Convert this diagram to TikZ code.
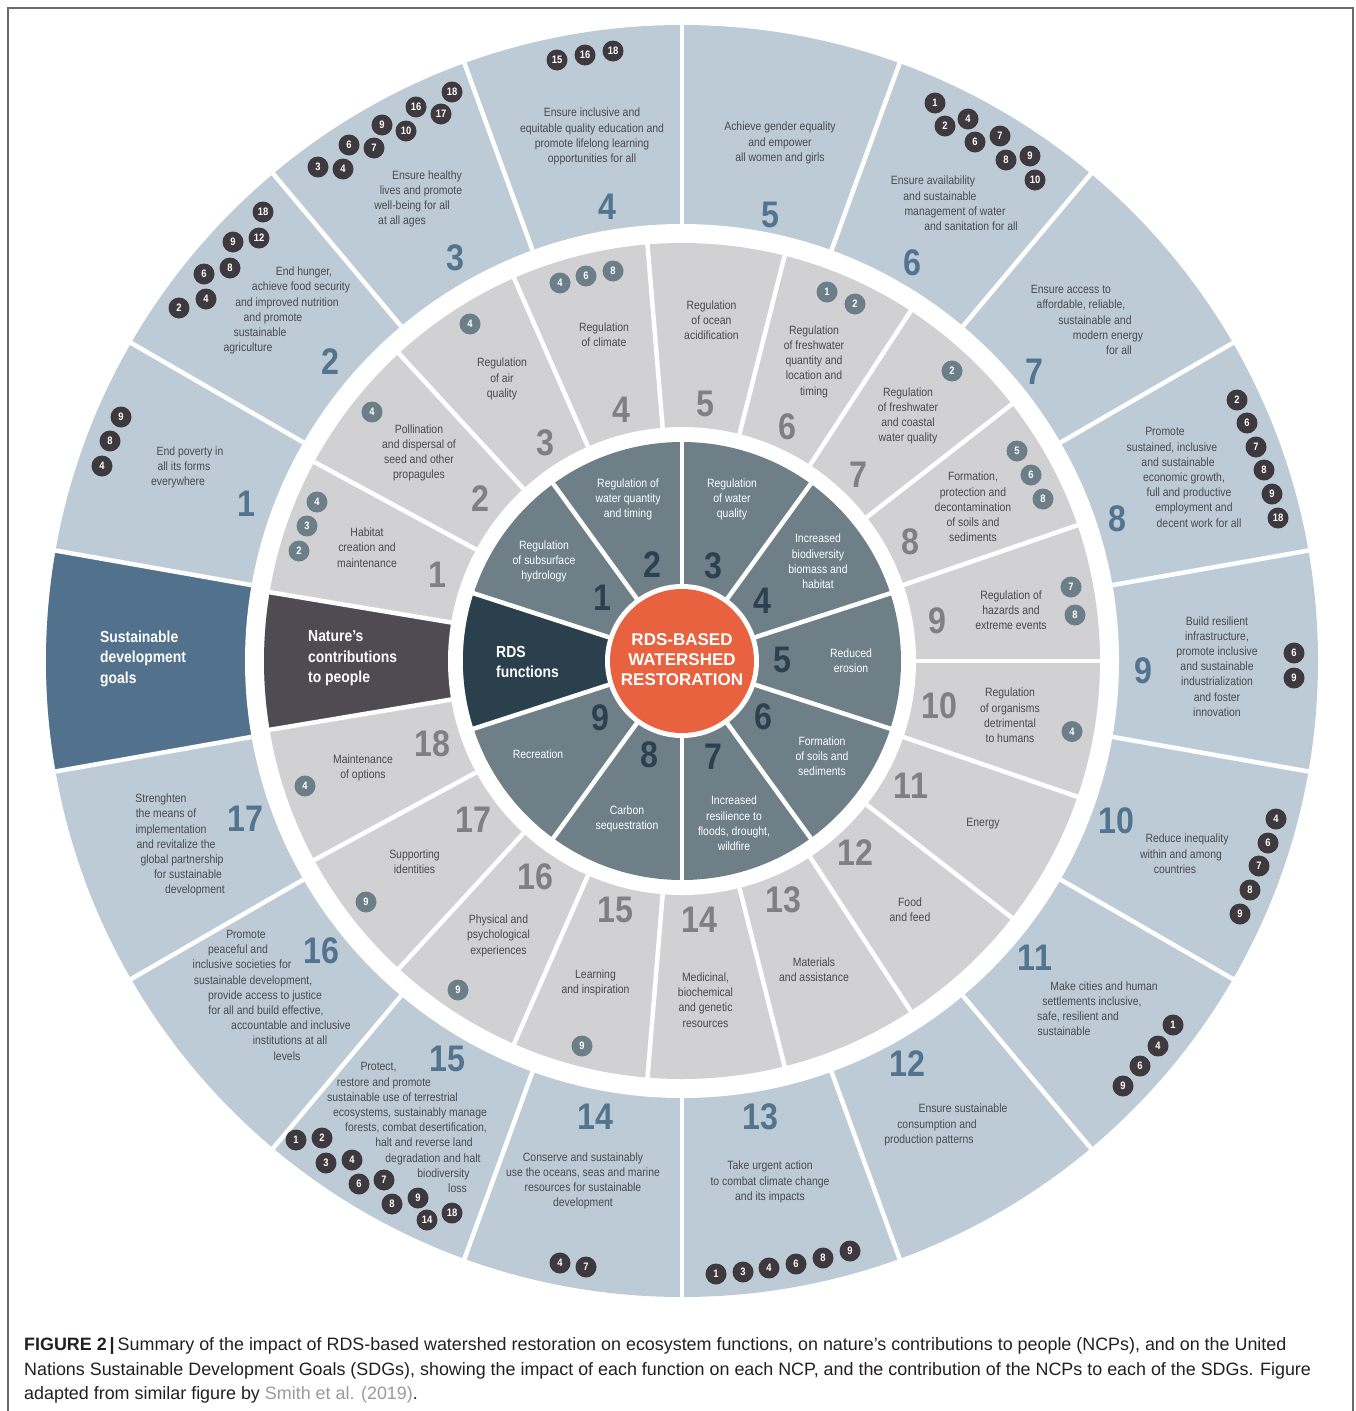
\documentclass[tikz,border=0pt]{standalone}
\usepackage{fontspec}
\setmainfont{Liberation Sans}
\newfontfamily\condfont{Liberation Sans}[FakeStretch=0.87]
\usepackage{tikz}

\definecolor{sdgfill}{HTML}{BDCBD7}
\definecolor{sdgtitle}{HTML}{52718C}
\definecolor{sdgnumcol}{HTML}{52748F}
\definecolor{sdgdotcol}{HTML}{3E393E}
\definecolor{ncpfill}{HTML}{D1D1D4}
\definecolor{ncptitle}{HTML}{504A53}
\definecolor{ncpnumcol}{HTML}{808082}
\definecolor{ncpdotcol}{HTML}{6C7E87}
\definecolor{fnfill}{HTML}{6E7F88}
\definecolor{fntitle}{HTML}{2A404D}
\definecolor{fnnumcol}{HTML}{2B4150}
\definecolor{rdsorange}{HTML}{E86240}
\definecolor{labelgray}{HTML}{4A4A4C}
\definecolor{framegray}{HTML}{6A6A6A}
\definecolor{captext}{HTML}{231F20}
\definecolor{linkgray}{HTML}{9A9A9A}

\tikzset{
        sep/.style={white, line width=4.5pt},
        lbl/.style={font=\condfont\fontsize{12}{15.2}\selectfont, text=labelgray,
                    align=center, inner sep=0pt},
        fnlbl/.style={lbl, text=white},
        bignum/.style={font=\condfont\bfseries\fontsize{37}{37}\selectfont, inner sep=0pt},
        sdgnum/.style={bignum, text=sdgnumcol},
        ncpnum/.style={bignum, text=ncpnumcol},
        fnnum/.style={bignum, text=fnnumcol},
        dot/.style={circle, minimum size=21pt, inner sep=0pt, text=white,
                    font=\condfont\bfseries\fontsize{10.8}{10.8}\selectfont},
        sdgdot/.style={dot, fill=sdgdotcol},
        ncpdot/.style={dot, fill=ncpdotcol},
        ringtitle/.style={font=\condfont\bfseries\fontsize{16}{20.5}\selectfont, text=white,
                          align=left, inner sep=0pt, anchor=west},
        coretext/.style={font=\bfseries\fontsize{17}{20}\selectfont, text=white,
                         align=center, inner sep=0pt},
        caption/.style={font=\fontsize{17.9}{24.5}\selectfont, text=captext,
                        align=left, inner sep=0pt, anchor=north west},
 }

\begin{document}
\begin{tikzpicture}[x=1pt, y=-1pt]
    \useasboundingbox (0,0) rectangle (1356,1411);
    \draw[framegray, line width=2pt] (8,1411) -- (8,8) -- (1353,8) -- (1353,1411);

    % the three rings
    \begin{scope}[shift={(682,661)}, yscale=-1]
        \fill[sdgfill] (0,0) circle[radius=636];
        \fill[sdgtitle] (0,0) -- (170:636) arc[start angle=170, end angle=190, radius=636] -- cycle;
        \foreach \k in {0,...,17}
            \draw[sep] ({10+20*\k}:437) -- ({10+20*\k}:640);
        \fill[white] (0,0) circle[radius=437];
        \fill[ncpfill] (0,0) circle[radius=418];
        \fill[ncptitle] (0,0) -- ({9*360/19}:418)
            arc[start angle={9*360/19}, end angle={10*360/19}, radius=418] -- cycle;
        \foreach \k in {0,...,18}
            \draw[sep] ({\k*360/19}:234) -- ({\k*360/19}:421);
        \fill[white] (0,0) circle[radius=234];
        \fill[fnfill] (0,0) circle[radius=219];
        \fill[fntitle] (0,0) -- (162:219) arc[start angle=162, end angle=198, radius=219] -- cycle;
        \foreach \k in {0,...,9}
            \draw[sep] ({18+36*\k}:70) -- ({18+36*\k}:222);
        \fill[white] (0,0) circle[radius=77];
        \fill[rdsorange] (0,0) circle[radius=72];
    \end{scope}

    \node[coretext] (core) at (682,660) {RDS-BASED\\WATERSHED\\RESTORATION};

    % RDS functions
    \node[ringtitle] (fntitle) at (496,662) {RDS\\functions};
    \node[fnlbl] (fn1) at (544,561.5) {Regulation\\of subsurface\\hydrology};
    \node[fnlbl] (fn2) at (628,499.5) {Regulation of\\water quantity\\and timing};
    \node[fnlbl] (fn3) at (732,499.5) {Regulation\\of water\\quality};
    \node[fnlbl] (fn4) at (818,561.5) {Increased\\biodiversity\\biomass and\\habitat};
    \node[fnlbl] (fn5) at (851,660.5) {Reduced\\erosion};
    \node[fnlbl] (fn6) at (822,756) {Formation\\of soils and\\sediments};
    \node[fnlbl] (fn7) at (734,823.5) {Increased\\resilience to\\floods, drought,\\wildfire};
    \node[fnlbl] (fn8) at (627,819) {Carbon\\sequestration};
    \node[fnlbl] (fn9) at (538,754) {Recreation};
    \foreach \k/\x/\y in {1/602/598, 2/652/565, 3/713/566, 4/762/601, 5/782/660,
                          6/763/717, 7/713/757, 8/649/755, 9/600/718}
        \node[fnnum] (fn\k num) at (\x,\y) {\k};

    % nature's contributions to people
    \node[ringtitle] (ncptitle) at (308,658.5) {Nature’s\\contributions\\to people};
    \node[lbl] (ncp1) at (367,547.7) {Habitat\\creation and\\maintenance};
    \node[lbl] (ncp2) at (419,453) {Pollination\\and dispersal of\\seed and other\\propagules};
    \node[lbl] (ncp3) at (502,379) {Regulation\\of air\\quality};
    \node[lbl] (ncp4) at (604,335) {Regulation\\of climate};
    \node[lbl] (ncp5) at (711.5,320) {Regulation\\of ocean\\acidification};
    \node[lbl] (ncp6) at (814,361.5) {Regulation\\of freshwater\\quantity and\\location and\\timing};
    \node[lbl] (ncp7) at (908,416) {Regulation\\of freshwater\\and coastal\\water quality};
    \node[lbl] (ncp8) at (973,507) {Formation,\\protection and\\decontamination\\of soils and\\sediments};
    \node[lbl] (ncp9) at (1011,610.5) {Regulation of\\hazards and\\extreme events};
    \node[lbl] (ncp10) at (1010,715.5) {Regulation\\of organisms\\detrimental\\to humans};
    \node[lbl] (ncp11) at (983,823.5) {Energy};
    \node[lbl] (ncp12) at (910,910) {Food\\and feed};
    \node[lbl] (ncp13) at (814,969.5) {Materials\\and assistance};
    \node[lbl] (ncp14) at (705.5,1000) {Medicinal,\\biochemical\\and genetic\\resources};
    \node[lbl] (ncp15) at (595.5,983) {Learning\\and inspiration};
    \node[lbl] (ncp16) at (498.5,935.7) {Physical and\\psychological\\experiences};
    \node[lbl] (ncp17) at (414.5,861.5) {Supporting\\identities};
    \node[lbl] (ncp18) at (363,768) {Maintenance\\of options};
    \foreach \k/\x/\y in {1/437/575, 2/480/499, 3/545/443, 4/621/410, 5/705.5/404,
                          6/787/427, 7/858/475, 8/910/542, 9/937/621, 10/939/705.5,
                          11/911/786, 12/855/853, 13/783/900, 14/699/920, 15/615/910,
                          16/535/877, 17/473/820, 18/432.5/743.5}
        \node[ncpnum] (ncp\k num) at (\x,\y) {\k};
    \foreach \n/\k/\x/\y in {1/4/317/502, 1/3/307/526, 1/2/299/551, 2/4/372/412,
                             3/4/470/324, 4/4/560/283, 4/6/586/276, 4/8/613/271,
                             6/1/827/292, 6/2/855/304, 7/2/952/371,
                             8/5/1017/451, 8/6/1031/475, 8/8/1043/499,
                             9/7/1071/587, 9/8/1075/615, 10/4/1072/731.5,
                             15/9/582/1046, 16/9/458/990, 17/9/366/902, 18/4/305/786}
        \node[ncpdot] (ncp\n-\k) at (\x,\y) {\k};

    % sustainable development goals
    \node[ringtitle] (sdgtitle) at (100,658.5) {Sustainable\\development\\goals};
    \node[lbl] (sdg1) at (184,467.5) {\hspace*{12pt}End poverty in\\all its forms\\\hspace*{-12pt}everywhere};
    \node[lbl] (sdg2) at (276,310.5) {\hspace*{56pt}End hunger,\\\hspace*{50pt}achieve food security\\
        \hspace*{22pt}and improved nutrition\\\hspace*{-6pt}and promote\\\hspace*{-32pt}sustainable\\
        \hspace*{-56pt}agriculture};
    \node[lbl] (sdg3) at (415,199) {\hspace*{24pt}Ensure healthy\\\hspace*{12pt}lives and promote\\
        \hspace*{-6pt}well-being for all\\\hspace*{-26pt}at all ages};
    \node[lbl] (sdg4) at (592,136.5) {Ensure inclusive and\\equitable quality education and\\
        promote lifelong learning\\opportunities for all};
    \node[lbl] (sdg5) at (780,143) {Achieve gender equality\\and empower\\all women and girls};
    \node[lbl] (sdg6) at (952,203.5) {\hspace*{-38pt}Ensure availability\\\hspace*{-24pt}and sustainable\\
        \hspace*{6pt}management of water\\\hspace*{38pt}and sanitation for all};
    \node[lbl] (sdg7) at (1095,320) {\hspace*{-48pt}Ensure access to\\\hspace*{-28pt}affordable, reliable,\\
        sustainable and\\\hspace*{26pt}modern energy\\\hspace*{48pt}for all};
    \node[lbl] (sdg8) at (1182,477.5) {\hspace*{-34pt}Promote\\\hspace*{-20pt}sustained, inclusive\\
        \hspace*{-8pt}and sustainable\\\hspace*{4pt}economic growth,\\\hspace*{14pt}full and productive\\
        \hspace*{24pt}employment and\\\hspace*{34pt}decent work for all};
    \node[lbl] (sdg9) at (1217,666.5) {Build resilient\\infrastructure,\\promote inclusive\\
        and sustainable\\industrialization\\and foster\\innovation};
    \node[lbl] (sdg10) at (1181,853.8) {\hspace*{12pt}Reduce inequality\\within and among\\
        \hspace*{-12pt}countries};
    \node[lbl] (sdg11) at (1084,1008.8) {\hspace*{40pt}Make cities and human\\
        \hspace*{16pt}settlements inclusive,\\\hspace*{-12pt}safe, resilient and\\\hspace*{-40pt}sustainable};
    \node[lbl] (sdg12) at (946,1125) {\hspace*{34pt}Ensure sustainable\\\hspace*{-18pt}consumption and\\
        \hspace*{-34pt}production patterns};
    \node[lbl] (sdg13) at (770,1182) {Take urgent action\\to combat climate change\\and its impacts};
    \node[lbl] (sdg14) at (583,1181) {Conserve and sustainably\\use the oceans, seas and marine\\
        resources for sustainable\\development};
    \node[lbl] (sdg15) at (418,1127.7) {\hspace*{-79pt}Protect,\\\hspace*{-68pt}restore and promote\\
        \hspace*{-51pt}sustainable use of terrestrial\\\hspace*{-16pt}ecosystems, sustainably manage\\
        \hspace*{-4pt}forests, combat desertification,\\\hspace*{12pt}halt and reverse land\\
        \hspace*{30pt}degradation and halt\\\hspace*{51pt}biodiversity\\\hspace*{79pt}loss};
    \node[lbl] (sdg16) at (264,995.3) {\hspace*{-36pt}Promote\\\hspace*{-52pt}peaceful and\\
        \hspace*{-44pt}inclusive societies for\\\hspace*{-22pt}sustainable development,\\
        \hspace*{2pt}provide access to justice\\\hspace*{4pt}for all and build effective,\\
        \hspace*{54pt}accountable and inclusive\\\hspace*{52pt}institutions at all\\\hspace*{46pt}levels};
    \node[lbl] (sdg17) at (178,845.2) {\hspace*{-34pt}Strenghten\\\hspace*{-24pt}the means of\\
        \hspace*{-14pt}implementation\\\hspace*{-4pt}and revitalize the\\\hspace*{8pt}global partnership\\
        \hspace*{20pt}for sustainable\\\hspace*{34pt}development};
    \foreach \k/\x/\y in {1/246.5/504, 2/330.5/362, 3/455/258, 4/607/207, 5/770/215,
                          6/912/263, 7/1034/372, 8/1117/519, 9/1143/671, 10/1116/820.5,
                          11/1035/957.5, 12/907/1064, 13/760/1117, 14/595/1117,
                          15/447/1059, 16/321.7/951, 17/245.7/819}
        \node[sdgnum] (sdg\k num) at (\x,\y) {\k};
    \foreach \n/\k/\x/\y in {1/9/121/417, 1/8/110/441, 1/4/102/466,
                             2/18/263/212, 2/12/259/238, 2/9/233/242, 2/8/230/268,
                             2/6/204/274, 2/4/206/299, 2/2/179/308,
                             3/18/452/92, 3/16/416/107, 3/17/441/114, 3/9/382/125, 3/10/406/131,
                             3/6/349/145, 3/7/374/148, 3/3/318/167, 3/4/343/169,
                             4/15/557/60, 4/16/585/55, 4/18/613/51,
                             6/1/935/103, 6/2/945/126, 6/4/968/119, 6/6/975/142,
                             6/7/1000/136, 6/8/1006/160, 6/9/1030/156, 6/10/1035/180,
                             8/2/1237/400, 8/6/1247/423, 8/7/1256/447, 8/8/1264/470,
                             8/9/1272/494, 8/18/1278/518,
                             9/6/1294/653, 9/9/1294/678,
                             10/4/1276/819, 10/6/1268/843, 10/7/1259/866, 10/8/1250/890, 10/9/1240/914,
                             11/1/1173/1025, 11/4/1158/1046, 11/6/1140/1066, 11/9/1123/1086,
                             13/1/716/1274, 13/3/743/1272, 13/4/769/1268, 13/6/796/1264,
                             13/8/823/1258, 13/9/850/1251,
                             14/4/560/1263, 14/7/586/1267,
                             15/1/296/1140, 15/2/322/1138, 15/3/326/1163, 15/4/352/1160,
                             15/6/359/1184, 15/7/384/1180, 15/8/392/1204, 15/9/418/1198,
                             15/14/427/1220, 15/18/452/1213}
        \node[sdgdot] (sdg\n-\k) at (\x,\y) {\k};

    \node[caption] (cap) at (24,1337.5) {\textbf{FIGURE 2\,|\,}Summary of the impact of
        RDS-based watershed restoration on ecosystem functions, on nature’s contributions
        to people (NCPs), and on the United\\Nations Sustainable Development Goals (SDGs),
        showing the impact of each function on each NCP, and the contribution of the NCPs
        to each of the SDGs. Figure\\adapted from similar figure by
        \textcolor{linkgray}{Smith et al. (2019)}.};
\end{tikzpicture}
\end{document}
